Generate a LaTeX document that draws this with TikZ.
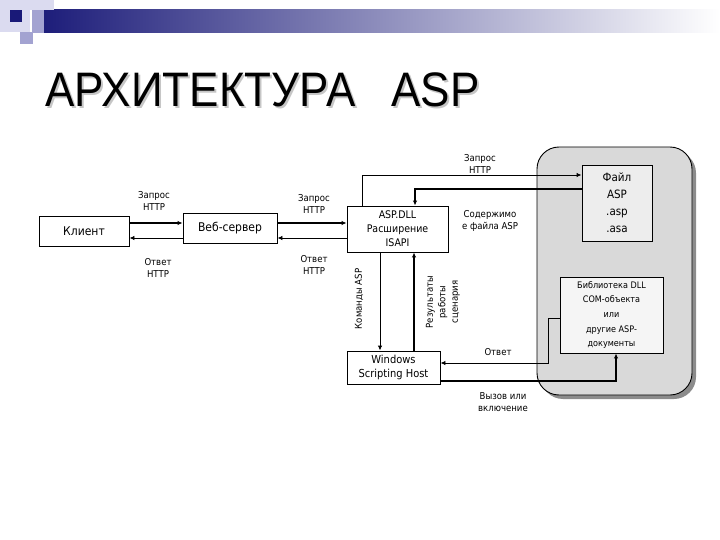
\documentclass[tikz,border=0pt]{standalone}
\usepackage{fontspec}
\setmainfont{DejaVu Sans}[FakeStretch=0.9]
\newfontfamily\titleFont{Liberation Sans}
\usepackage{tikz}
\usetikzlibrary{
  arrows.meta,
  positioning,
  calc
}
\usepackage{xcolor}
\definecolor{navyBar}{rgb}{0.10,0.10,0.47}
\definecolor{paleLilac}{rgb}{0.86,0.86,0.94}
\definecolor{midLilac}{rgb}{0.64,0.64,0.82}
\definecolor{panelGray}{rgb}{0.85,0.85,0.85}
\definecolor{shadowGray}{rgb}{0.55,0.55,0.55}
\definecolor{fileGray}{rgb}{0.93,0.93,0.93}
\definecolor{libGray}{rgb}{0.96,0.96,0.96}
\newcommand{\sz}[2]{\fontsize{#1}{#2}\selectfont}
\newcommand{\titleText}{\titleFont\sz{44}{44}\scalebox{1}[1.1]{АРХИТЕКТУРА\hspace{36pt}ASP}}
\tikzset{
  block/.style={
    draw,
    line width=0.9pt,
    fill=white,
    inner sep=0pt,
    align=center,
    font=\sz{12}{14}
  }
}
\tikzset{
  lbl/.style={
    inner sep=0pt,
    align=center,
    font=\sz{9.5}{12.5}
  }
}
\tikzset{
  thinLink/.style={
    line width=0.9pt,
    -{Latex[length=5pt,width=4.5pt]}
  },
  thickLink/.style={
    line width=2.4pt,
    -{Latex[length=5pt,width=4.5pt]}
  }
}
\begin{document}
\begin{tikzpicture}[x=1pt, y=-1pt]
  \useasboundingbox (0,0) rectangle (720,540);
  % header bar and squares
  \shade[left color=navyBar, right color=white] (32,10) rectangle (720,33);
  \fill[paleLilac] (0,0) rectangle (30,32);
  \fill[paleLilac] (30,0) rectangle (54,10);
  \fill[midLilac] (32,10) rectangle (44,33);
  \fill[midLilac] (20,32) rectangle (33,44);
  \fill[navyBar] (10,10) rectangle (22,22);
  % title with its shadow
  \node[anchor=base west, inner sep=0pt, text=gray!45] (titleShadow) at (47,109) {\titleText};
  \node[anchor=base west, inner sep=0pt] (title) at (45,107) {\titleText};
  % server panel
  \fill[shadowGray, rounded corners=22pt] (541,151) rectangle (696,399);
  \draw[line width=0.9pt, fill=panelGray, rounded corners=22pt] (537,147) rectangle (692,395);
  % blocks
  \node[block, minimum width=90pt, minimum height=30pt] (client) at (84,231) {Клиент};
  \node[block, minimum width=94pt, minimum height=30pt] (webServer) at (230,228) {Веб-сервер};
  \node[block, minimum width=101pt, minimum height=46pt, font=\sz{10.5}{14}] (aspDll) at (397.5,229)
    {ASP.DLL\\Расширение\\ISAPI};
  \node[block, minimum width=93pt, minimum height=33pt, font=\sz{11}{14}] (wsh) at (393.5,367.5)
    {Windows\\Scripting Host};
  \node[block, fill=fileGray, minimum width=70pt, minimum height=76pt, font=\sz{11.5}{17}] (aspFile) at (617,203)
    {Файл\\ASP\\.asp\\.asa};
  \node[block, fill=libGray, minimum width=103pt, minimum height=76pt, font=\sz{9}{14.7}] (comLib) at (611.5,315)
    {Библиотека DLL\\COM-объекта\\или\\другие ASP-\\документы};
  % bends
  \coordinate (reqBend) at (362,175);
  \coordinate (contBend) at (415,189);
  \coordinate (ansBend) at (548,363);
  \coordinate (callBend) at (616,381);
  % links
  \draw[thickLink] ([yshift=8pt]client.east) -- ([yshift=8pt]client.east -| webServer.west);
  \draw[thinLink] ([yshift=-7pt]client.east -| webServer.west) -- ([yshift=-7pt]client.east);
  \draw[thickLink] ([yshift=5pt]webServer.east) -- ([yshift=5pt]webServer.east -| aspDll.west);
  \draw[thinLink] ([yshift=-10pt]webServer.east -| aspDll.west) -- ([yshift=-10pt]webServer.east);
  \draw[thinLink] (reqBend |- aspDll.north) -- (reqBend) -- (reqBend -| aspFile.west);
  \draw[thickLink] (contBend -| aspFile.west) -- (contBend) -- (contBend |- aspDll.north);
  \draw[thinLink] ([xshift=-17.5pt]aspDll.south) -- ([xshift=-17.5pt]aspDll.south |- wsh.north);
  \draw[thickLink] ([xshift=16.5pt]aspDll.south |- wsh.north) -- ([xshift=16.5pt]aspDll.south);
  \draw[thinLink] ([yshift=-3pt]comLib.west) -| (ansBend) -- (ansBend -| wsh.east);
  \draw[thickLink] (callBend -| wsh.east) -- (callBend) -- (callBend |- comLib.south);
  % labels
  \node[lbl] (reqOne) at (154,201) {Запрос\\HTTP};
  \node[lbl] (ansOne) at (158,268) {Ответ\\HTTP};
  \node[lbl] (reqTwo) at (314,204) {Запрос\\HTTP};
  \node[lbl] (ansTwo) at (314,265) {Ответ\\HTTP};
  \node[lbl] (reqThree) at (480,164) {Запрос\\HTTP};
  \node[lbl] (contLbl) at (490,221) {Содержимо\\е файла ASP};
  \node[lbl, rotate=90] (cmdLbl) at (359,299) {Команды ASP};
  \node[lbl, rotate=90] (resLbl) at (443,302) {Результаты\\работы\\сценария};
  \node[lbl] (ansLbl) at (498,352) {Ответ};
  \node[lbl] (callLbl) at (503,402) {Вызов или\\включение};
\end{tikzpicture}
\end{document}
